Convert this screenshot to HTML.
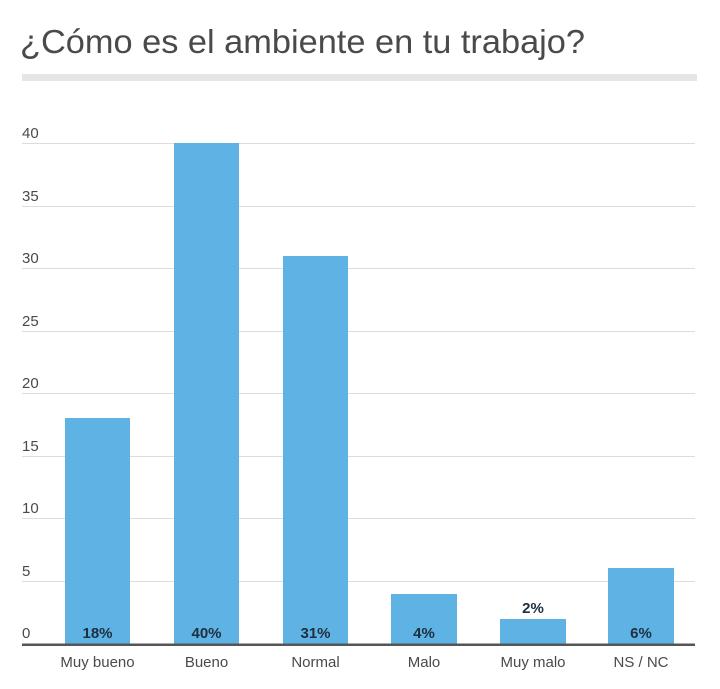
<!DOCTYPE html>
<html><head><meta charset="utf-8"><style>body{margin:0;background:#fff}svg{display:block}</style></head>
<body>
<svg width="720" height="689" viewBox="0 0 720 689" xmlns="http://www.w3.org/2000/svg" font-family="Liberation Sans, sans-serif">
<rect width="720" height="689" fill="#fff"/>
<text x="20" y="53" font-size="33" fill="#4a4a4a" textLength="565" lengthAdjust="spacingAndGlyphs">¿Cómo es el ambiente en tu trabajo?</text>
<rect x="22" y="74" width="675" height="7" fill="#e6e6e6"/>
<g stroke="#dcdcdc" stroke-width="1">
<line x1="22" y1="143.5" x2="695" y2="143.5"/>
<line x1="22" y1="206.5" x2="695" y2="206.5"/>
<line x1="22" y1="268.5" x2="695" y2="268.5"/>
<line x1="22" y1="331.5" x2="695" y2="331.5"/>
<line x1="22" y1="393.5" x2="695" y2="393.5"/>
<line x1="22" y1="456.5" x2="695" y2="456.5"/>
<line x1="22" y1="518.5" x2="695" y2="518.5"/>
<line x1="22" y1="581.5" x2="695" y2="581.5"/>
</g>
<g font-size="15" fill="#4a4a4a">
<text x="22" y="138">40</text><text x="22" y="201">35</text><text x="22" y="263">30</text>
<text x="22" y="326">25</text><text x="22" y="388">20</text><text x="22" y="451">15</text>
<text x="22" y="513">10</text><text x="22" y="576">5</text><text x="22" y="638">0</text>
</g>
<g fill="#5eb3e4">
<rect x="65" y="418" width="65" height="227"/>
<rect x="174" y="143" width="65" height="502"/>
<rect x="283" y="256" width="65" height="389"/>
<rect x="391" y="594" width="66" height="51"/>
<rect x="500" y="619" width="66" height="26"/>
<rect x="608" y="568" width="66" height="77"/>
</g>
<rect x="22" y="643.5" width="673" height="2.5" fill="#555"/>
<g font-size="15" font-weight="bold" fill="#1e2f3f" text-anchor="middle">
<text x="97.5" y="638">18%</text><text x="206.5" y="638">40%</text><text x="315.5" y="638">31%</text>
<text x="424" y="638">4%</text><text x="533" y="613">2%</text><text x="641" y="638">6%</text>
</g>
<g font-size="15" fill="#4a4a4a" text-anchor="middle">
<text x="97.5" y="667">Muy bueno</text><text x="206.5" y="667">Bueno</text><text x="315.5" y="667">Normal</text>
<text x="424" y="667">Malo</text><text x="533" y="667">Muy malo</text><text x="641" y="667">NS / NC</text>
</g>
</svg>
</body></html>
